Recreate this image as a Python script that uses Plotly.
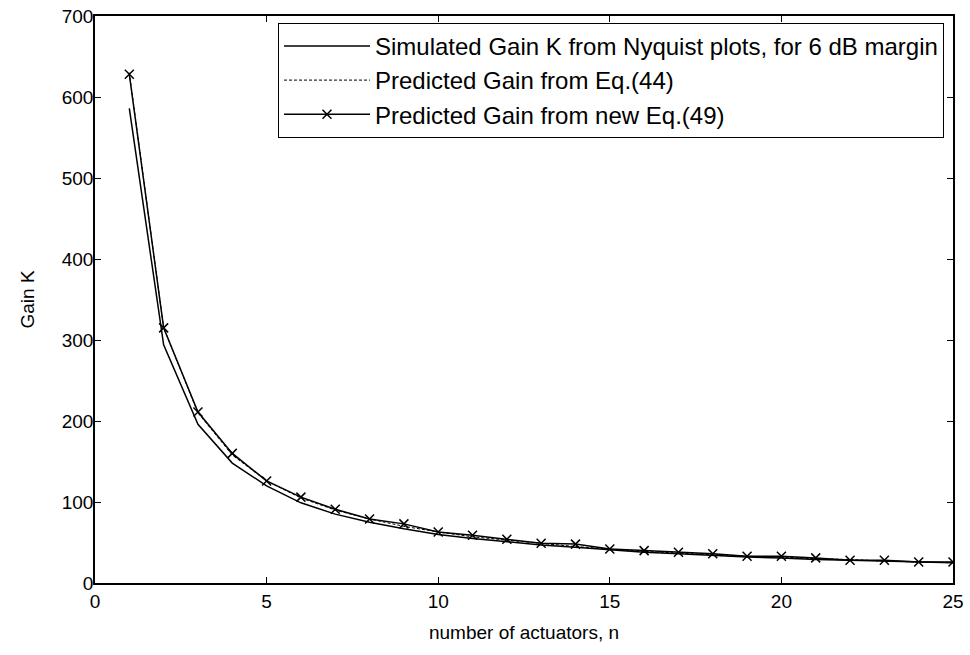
import plotly.graph_objects as go

n_actuators = list(range(1, 26))
simulated_gain = [586, 294, 196, 148, 120, 99, 85, 75, 67, 60, 55, 51, 47, 44, 41,
                  38, 36, 34, 32, 31, 29, 28, 27, 26, 25]
predicted_eq44 = [630, 315, 210, 158, 126, 105, 90, 79, 70, 63, 57, 53, 49, 45, 42,
                  39, 37, 35, 33, 32, 30, 29, 27, 26, 25]
predicted_eq49 = [628, 315, 211, 160, 126, 106, 91, 79, 73, 63, 59, 54, 49, 48, 42,
                  40, 38, 36, 33, 33, 31, 28, 28, 26, 26]

names = ["Simulated Gain K from Nyquist plots, for 6 dB margin",
         "Predicted Gain from Eq.(44)",
         "Predicted Gain from new Eq.(49)"]

FONT = "Liberation Sans, Arial"

fig = go.Figure()
fig.add_trace(go.Scatter(x=n_actuators, y=simulated_gain, mode="lines", name=names[0],
                         line=dict(color="black", width=1.5)))
fig.add_trace(go.Scatter(x=n_actuators, y=predicted_eq44, mode="lines", name=names[1],
                         line=dict(color="black", width=1, dash="3px,2px")))
fig.add_trace(go.Scatter(x=n_actuators, y=predicted_eq49, mode="lines+markers", name=names[2],
                         line=dict(color="black", width=1.5),
                         marker=dict(symbol="x-thin", size=9, color="black",
                                     line=dict(color="black", width=1.5))))

axis_common = dict(showgrid=False, zeroline=False, showline=True, linecolor="black",
                   linewidth=1.5, mirror="ticks", ticks="inside", ticklen=6,
                   tickwidth=1, tickcolor="black", ticklabeloverflow="allow",
                   automargin=False,
                   tickfont=dict(family=FONT, size=19, color="black"))

fig.update_xaxes(range=[0, 25], tickvals=[0, 5, 10, 15, 20, 25],
                 title=dict(text="number of actuators, n",
                            font=dict(family=FONT, size=19, color="black")),
                 **axis_common)
fig.update_yaxes(range=[0, 700], tickvals=[0, 100, 200, 300, 400, 500, 600, 700],
                 ticklabelstandoff=-4,
                 **axis_common)

fig.add_annotation(text="Gain K", xref="paper", yref="paper", x=0, y=0.5,
                   xanchor="center", yanchor="middle", xshift=-68, textangle=-90,
                   showarrow=False, font=dict(family=FONT, size=19, color="black"))

fig.update_layout(
    width=970, height=655,
    margin=dict(l=95, r=17, t=16, b=72),
    paper_bgcolor="white", plot_bgcolor="white",
    showlegend=True,
    legend=dict(x=0.9895, y=0.988, xanchor="right", yanchor="top",
                bgcolor="white", bordercolor="black", borderwidth=1,
                font=dict(family=FONT, size=24, color="black"),
                itemwidth=86),
)

fig.write_html("out.html", config={"displayModeBar": False},
               post_script="document.body.style.margin='0';document.body.style.overflow='hidden';")
